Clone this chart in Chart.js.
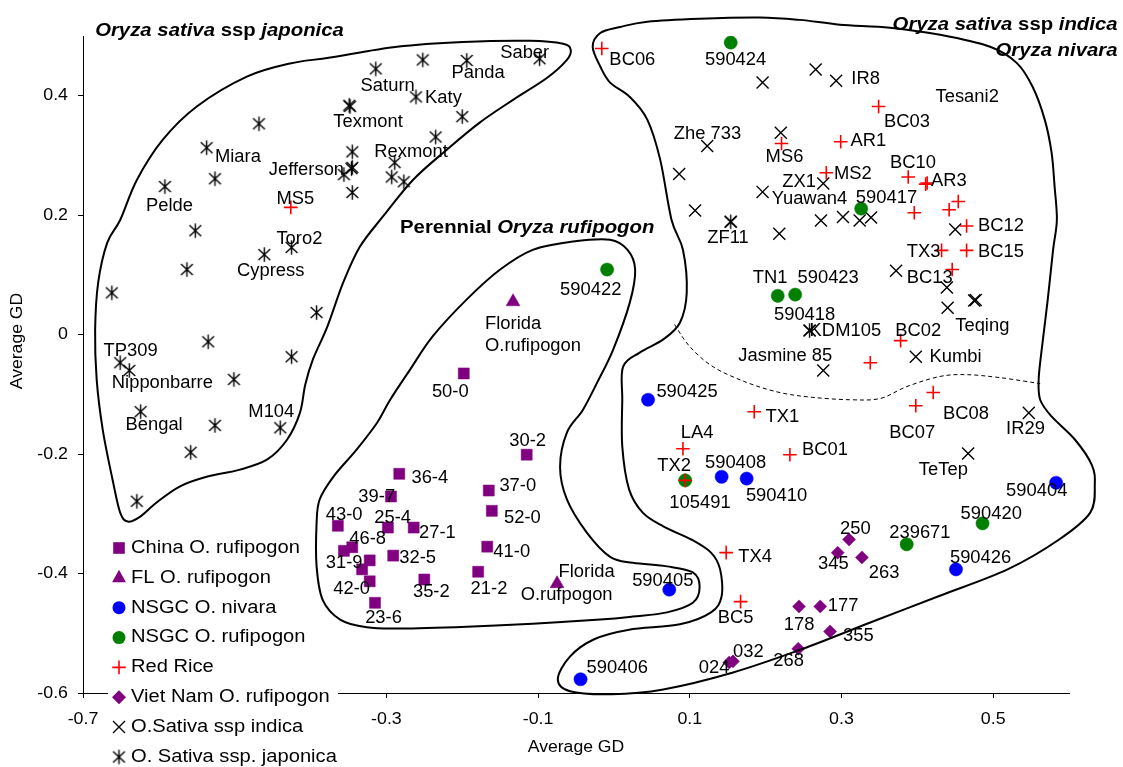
<!DOCTYPE html>
<html>
<head>
<meta charset="utf-8">
<script src="https://cdn.jsdelivr.net/npm/chart.js@4.4.1/dist/chart.umd.min.js"></script>
<style>
  html, body { margin: 0; padding: 0; background: #fff; }
  canvas { display: block; }
</style>
</head>
<body>
<canvas id="gd" width="1123" height="767"></canvas>
<script>
// ---- Average GD coordinates per group ----
const chinaRufipogon = [
  [-0.115,-0.201],[-0.283,-0.233],[-0.165,-0.261],[-0.294,-0.271],[-0.161,-0.295],
  [-0.364,-0.320],[-0.298,-0.323],[-0.264,-0.323],[-0.167,-0.355],[-0.356,-0.362],
  [-0.345,-0.356],[-0.291,-0.370],[-0.322,-0.378],[-0.332,-0.393],[-0.179,-0.397],
  [-0.250,-0.410],[-0.322,-0.413],[-0.315,-0.449],[-0.198,-0.065]
];
const flRufipogon = [[-0.133,0.055],[-0.075,-0.417]];
const nsgcNivara = [
  [0.045,-0.109],[0.142,-0.238],[0.175,-0.241],[0.583,-0.248],
  [0.451,-0.393],[0.073,-0.427],[-0.044,-0.577]
];
const nsgcRufipogon = [
  [0.154,0.489],[0.326,0.211],[0.216,0.065],[0.239,0.067],
  [-0.009,0.109],[0.094,-0.244],[0.386,-0.351],[0.486,-0.316]
];
const redRice = [
  [-0.016,0.479],[-0.426,0.213],[0.221,0.320],[0.299,0.323],[0.349,0.382],
  [0.280,0.271],[0.388,0.264],[0.413,0.254],[0.411,0.252],[0.454,0.223],
  [0.442,0.209],[0.396,0.204],[0.465,0.182],[0.432,0.141],[0.465,0.141],
  [0.446,0.109],[0.378,-0.010],[0.338,-0.047],[0.421,-0.097],[0.398,-0.119],
  [0.185,-0.129],[0.091,-0.191],[0.094,-0.244],[0.232,-0.201],[0.148,-0.365],
  [0.167,-0.447]
];
const vietNamRufipogon = [
  [0.310,-0.343],[0.295,-0.365],[0.327,-0.373],[0.244,-0.455],[0.272,-0.455],
  [0.285,-0.497],[0.243,-0.526],[0.157,-0.547],[0.152,-0.549]
];
const sativaIndica = [
  [0.266,0.444],[0.293,0.425],[0.196,0.422],[0.123,0.316],[0.220,0.338],
  [0.086,0.269],[0.196,0.239],[0.276,0.253],[0.107,0.208],[0.218,0.169],
  [0.273,0.191],[0.302,0.197],[0.324,0.191],[0.339,0.196],[0.450,0.176],
  [0.372,0.107],[0.439,0.079],[0.440,0.045],[0.475,0.057],[0.477,0.058],
  [0.398,-0.037],[0.276,-0.060],[0.547,-0.131],[0.467,-0.199],[0.154,0.189],
  [0.258,0.007]
];
const sativaJaponica = [
  [-0.314,0.445],[-0.252,0.460],[-0.194,0.459],[-0.098,0.462],[-0.261,0.398],
  [-0.200,0.365],[-0.235,0.331],[-0.348,0.382],[-0.349,0.384],[-0.289,0.288],
  [-0.293,0.264],[-0.277,0.256],[-0.345,0.306],[-0.345,0.280],[-0.346,0.278],
  [-0.356,0.268],[-0.345,0.238],[-0.468,0.353],[-0.537,0.313],[-0.526,0.261],
  [-0.592,0.248],[-0.552,0.174],[-0.425,0.146],[-0.461,0.134],[-0.563,0.109],
  [-0.662,0.070],[-0.392,0.037],[-0.535,-0.012],[-0.425,-0.037],[-0.651,-0.047],
  [-0.639,-0.060],[-0.501,-0.075],[-0.624,-0.129],[-0.526,-0.152],[-0.440,-0.156],
  [-0.558,-0.197],[-0.629,-0.279],[0.154,0.189],[0.258,0.007]
];

// accession names, anchored by their left edge (x) and middle (y)
const pointLabels = [
  ['Miara',-0.526,0.297],['Pelde',-0.617,0.215],['Jefferson',-0.455,0.276],['MS5',-0.445,0.226],
  ['Texmont',-0.370,0.355],['Saturn',-0.334,0.416],['Katy',-0.249,0.396],['Panda',-0.214,0.438],
  ['Saber',-0.150,0.472],['Rexmont',-0.316,0.306],['Toro2',-0.445,0.159],['Cypress',-0.497,0.106],
  ['TP309',-0.673,-0.028],['Nipponbarre',-0.662,-0.081],['Bengal',-0.644,-0.152],['M104',-0.482,-0.130],
  ['Florida',-0.170,0.018],['O.rufipogon',-0.170,-0.020],['590422',-0.071,0.074],['50-0',-0.240,-0.097],
  ['30-2',-0.138,-0.179],['36-4',-0.267,-0.240],['37-0',-0.151,-0.253],['39-7',-0.337,-0.272],
  ['52-0',-0.145,-0.307],['43-0',-0.380,-0.302],['25-4',-0.316,-0.308],['27-1',-0.257,-0.333],
  ['46-8',-0.349,-0.343],['41-0',-0.159,-0.364],['31-9',-0.380,-0.383],['32-5',-0.283,-0.374],
  ['42-0',-0.370,-0.427],['35-2',-0.265,-0.432],['21-2',-0.189,-0.427],['23-6',-0.328,-0.475],
  ['Florida',-0.073,-0.397],['O.rufpogon',-0.123,-0.436],
  ['590405',0.024,-0.413],['LA4',0.088,-0.165],['TX2',0.057,-0.220],['105491',0.073,-0.283],
  ['BC06',-0.006,0.460],['590424',0.120,0.460],['Zhe 733',0.079,0.336],['MS6',0.200,0.297],
  ['ZX1',0.222,0.256],['Yuawan4',0.208,0.227],['IR8',0.313,0.428],['AR1',0.312,0.324],
  ['MS2',0.290,0.269],['Tesani2',0.424,0.397],['BC03',0.356,0.355],['BC10',0.364,0.287],
  ['AR3',0.418,0.257],['590417',0.319,0.228],['ZF11',0.123,0.161],['TN1',0.183,0.094],
  ['590423',0.242,0.094],['590418',0.211,0.032],['KDM105',0.258,0.006],['Jasmine 85',0.164,-0.036],
  ['590425',0.056,-0.097],['BC12',0.480,0.182],['TX3',0.386,0.138],['BC15',0.480,0.138],
  ['BC13',0.386,0.095],['Teqing',0.450,0.014],['BC02',0.371,0.006],['Kumbi',0.416,-0.037],
  ['TX1',0.200,-0.138],['BC01',0.248,-0.194],['590408',0.120,-0.215],['590410',0.174,-0.271],
  ['BC08',0.434,-0.134],['BC07',0.363,-0.165],['IR29',0.517,-0.158],['TeTep',0.402,-0.227],
  ['590404',0.517,-0.262],['590420',0.457,-0.301],['239671',0.363,-0.333],['590426',0.443,-0.374],
  ['250',0.298,-0.325],['345',0.269,-0.385],['263',0.336,-0.400],['TX4',0.164,-0.373],
  ['BC5',0.137,-0.474],['178',0.224,-0.487],['177',0.282,-0.454],['355',0.302,-0.505],
  ['268',0.210,-0.546],['032',0.157,-0.532],['024',0.112,-0.558],['590406',-0.036,-0.559]
];

// group headings: [segments, x, y, align]; each segment is [text, italic]
const groupTitles = [
  [[['Oryza sativa ',true],['ssp ',false],['japonica',true]], -0.684, 0.508, 'left'],
  [[['Oryza sativa ',true],['ssp ',false],['indica',true]], 0.664, 0.519, 'right'],
  [[['Oryza nivara',true]], 0.664, 0.474, 'right'],
  [[['Perennial ',false],['Oryza rufipogon',true]], -0.282, 0.179, 'left']
];

// hand-drawn group outlines (closed) and the dashed divider (open)
const japonicaOutline = [
  [-0.374,0.464],[-0.286,0.482],[-0.199,0.490],[-0.111,0.492],[-0.067,0.487],[-0.057,0.477],
  [-0.062,0.460],[-0.088,0.430],[-0.133,0.393],[-0.177,0.355],[-0.220,0.310],[-0.265,0.259],
  [-0.305,0.197],[-0.335,0.147],[-0.357,0.087],[-0.378,0.013],[-0.397,-0.042],[-0.407,-0.084],
  [-0.414,-0.131],[-0.431,-0.176],[-0.457,-0.209],[-0.493,-0.226],[-0.537,-0.238],[-0.572,-0.254],
  [-0.603,-0.281],[-0.625,-0.305],[-0.641,-0.313],[-0.651,-0.298],[-0.661,-0.243],[-0.674,-0.159],
  [-0.682,-0.075],[-0.684,0.008],[-0.680,0.087],[-0.668,0.154],[-0.651,0.192],[-0.629,0.259],
  [-0.595,0.326],[-0.550,0.382],[-0.484,0.432],[-0.427,0.454]
];
const perennialOutline = [
  [-0.269,-0.059],[-0.239,-0.003],[-0.194,0.059],[-0.150,0.109],[-0.107,0.142],[-0.054,0.156],
  [-0.005,0.159],[0.018,0.142],[0.028,0.109],[0.021,0.054],[-0.001,-0.025],[-0.022,-0.080],
  [-0.041,-0.126],[-0.062,-0.164],[-0.071,-0.221],[-0.062,-0.276],[-0.036,-0.331],[-0.005,-0.372],
  [0.025,-0.382],[0.070,-0.388],[0.104,-0.398],[0.113,-0.422],[0.104,-0.449],[0.070,-0.465],
  [0.025,-0.472],[-0.018,-0.477],[-0.107,-0.484],[-0.194,-0.489],[-0.282,-0.492],[-0.326,-0.490],
  [-0.361,-0.477],[-0.384,-0.444],[-0.392,-0.388],[-0.392,-0.315],[-0.388,-0.276],[-0.370,-0.238],
  [-0.339,-0.192],[-0.312,-0.147],[-0.295,-0.109]
];
const indicaOutline = [
  [-0.018,0.505],[0.008,0.515],[0.044,0.524],[0.113,0.529],[0.192,0.531],[0.245,0.527],
  [0.298,0.519],[0.364,0.514],[0.430,0.502],[0.496,0.482],[0.531,0.455],[0.552,0.415],
  [0.568,0.360],[0.577,0.305],[0.581,0.248],[0.584,0.192],[0.579,0.142],[0.572,0.059],
  [0.564,-0.025],[0.560,-0.075],[0.562,-0.109],[0.577,-0.137],[0.608,-0.176],[0.630,-0.218],
  [0.634,-0.251],[0.628,-0.298],[0.587,-0.343],[0.519,-0.393],[0.428,-0.438],[0.338,-0.482],
  [0.247,-0.527],[0.156,-0.566],[0.065,-0.594],[-0.003,-0.602],[-0.058,-0.597],[-0.074,-0.577],
  [-0.058,-0.539],[-0.026,-0.510],[0.020,-0.494],[0.087,-0.485],[0.128,-0.465],[0.142,-0.438],
  [0.140,-0.393],[0.128,-0.365],[0.102,-0.343],[0.065,-0.321],[0.038,-0.298],[0.020,-0.259],
  [0.011,-0.187],[0.011,-0.109],[0.012,-0.054],[0.034,-0.030],[0.065,-0.008],[0.087,0.020],
  [0.096,0.070],[0.091,0.142],[0.076,0.192],[0.061,0.293],[0.044,0.360],[0.021,0.398],
  [-0.005,0.422],[-0.018,0.449],[-0.028,0.482]
];
const nivaraDivider = [
  [0.080,0.017],[0.100,-0.020],[0.131,-0.054],[0.175,-0.080],[0.219,-0.097],[0.262,-0.105],
  [0.311,-0.109],[0.351,-0.107],[0.386,-0.087],[0.430,-0.070],[0.465,-0.067],[0.509,-0.072],
  [0.562,-0.082]
];

const xTickValues = [-0.7, -0.5, -0.3, -0.1, 0.1, 0.3, 0.5];
const yTickValues = [-0.6, -0.4, -0.2, 0, 0.2, 0.4];
const axisTitle = 'Average GD';

// ---- drawing ----
const FONT = "'Liberation Sans', Arial, Helvetica, sans-serif";
Chart.defaults.font.family = FONT;
Chart.defaults.color = '#000';

// asterisk marker used for japonica accessions
function makeAsterisk() {
  const c = document.createElement('canvas');
  c.width = 17; c.height = 17;
  const g = c.getContext('2d');
  g.strokeStyle = '#000';
  g.lineWidth = 1.4;
  g.beginPath();
  g.moveTo(2.6, 2.9); g.lineTo(14.4, 14.1);
  g.moveTo(14.4, 2.9); g.lineTo(2.6, 14.1);
  g.moveTo(8.5, 1.2); g.lineTo(8.5, 15.8);
  g.stroke();
  return c;
}
const asterisk = makeAsterisk();

const PURPLE = '#800080', BLUE = '#0000FF', GREEN = '#008000', RED = '#FF0000', BLACK = '#000000';

function series(label, pts, style, radius, color, width, order) {
  return {
    label,
    data: pts.map(([x, y]) => ({ x, y })),
    pointStyle: style,
    pointRadius: radius,
    pointHoverRadius: radius,
    pointBackgroundColor: color,
    pointBorderColor: color,
    pointBorderWidth: width,
    showLine: false,
    order
  };
}

const datasets = [
  series('China O. rufipogon', chinaRufipogon, 'rect', 7.8, PURPLE, 0.5, 1),
  series('FL O. rufipogon', flRufipogon, 'triangle', 8, PURPLE, 0.5, 1),
  series('NSGC O. nivara', nsgcNivara, 'circle', 6.6, BLUE, 0.5, 1),
  series('NSGC O. rufipogon', nsgcRufipogon, 'circle', 6.6, GREEN, 0.5, 1),
  series('Red Rice', redRice, 'cross', 6.8, RED, 1.6, 0),
  series('Viet Nam O. rufipogon', vietNamRufipogon, 'rectRot', 6.5, PURPLE, 0.5, 1),
  series('O.Sativa ssp indica', sativaIndica, 'crossRot', 8.5, BLACK, 1.4, 1),
  series('O. Sativa ssp. japonica', sativaJaponica, asterisk, 8, BLACK, 1, 1)
];

// draws text stretched horizontally about its anchor
function patchText(ctx) {
  if (ctx._patched) return;
  const orig = ctx.fillText;
  ctx.fillText = function (t, x, y) {
    const s = this._sx || 1;
    if (s === 1) return orig.call(this, t, x, y);
    this.save();
    this.translate(x, y);
    this.scale(s, 1);
    orig.call(this, t, 0, 0);
    this.restore();
  };
  ctx._patched = true;
}

function text(ctx, s, x, y, font, align, sx) {
  ctx.font = font;
  ctx.textAlign = align || 'left';
  ctx.textBaseline = 'middle';
  ctx._sx = sx;
  ctx.fillText(s, x, y);
}

function smoothPath(ctx, pts, closed) {
  const n = pts.length;
  const at = i => closed ? pts[(i + n) % n] : pts[Math.max(0, Math.min(n - 1, i))];
  ctx.beginPath();
  ctx.moveTo(pts[0][0], pts[0][1]);
  const last = closed ? n : n - 1;
  for (let i = 0; i < last; i++) {
    const p0 = at(i - 1), p1 = at(i), p2 = at(i + 1), p3 = at(i + 2);
    ctx.bezierCurveTo(
      p1[0] + (p2[0] - p0[0]) / 6, p1[1] + (p2[1] - p0[1]) / 6,
      p2[0] - (p3[0] - p1[0]) / 6, p2[1] - (p3[1] - p1[1]) / 6,
      p2[0], p2[1]);
  }
  if (closed) ctx.closePath();
}

function legendMarker(ctx, style, x, y, color) {
  ctx.save();
  ctx.fillStyle = color;
  ctx.strokeStyle = color;
  ctx.beginPath();
  if (style === 'rect') {
    ctx.fillRect(x - 5.8, y - 5.8, 11.6, 11.6);
  } else if (style === 'triangle') {
    ctx.moveTo(x, y - 8); ctx.lineTo(x + 6.9, y + 4.5); ctx.lineTo(x - 6.9, y + 4.5);
    ctx.closePath(); ctx.fill();
  } else if (style === 'circle') {
    ctx.arc(x, y, 6.5, 0, Math.PI * 2); ctx.fill();
  } else if (style === 'cross') {
    ctx.lineWidth = 1.6;
    ctx.moveTo(x - 6.8, y); ctx.lineTo(x + 6.8, y);
    ctx.moveTo(x, y - 6.8); ctx.lineTo(x, y + 6.8); ctx.stroke();
  } else if (style === 'rectRot') {
    ctx.moveTo(x - 7, y); ctx.lineTo(x, y - 7); ctx.lineTo(x + 7, y); ctx.lineTo(x, y + 7);
    ctx.closePath(); ctx.fill();
  } else if (style === 'crossRot') {
    ctx.lineWidth = 1.4;
    ctx.moveTo(x - 6, y - 6); ctx.lineTo(x + 6, y + 6);
    ctx.moveTo(x + 6, y - 6); ctx.lineTo(x - 6, y + 6); ctx.stroke();
  } else {
    ctx.drawImage(style, x - style.width / 2, y - style.height / 2);
  }
  ctx.restore();
}

const TICK_STRETCH = 1.08;

const overlay = {
  id: 'overlay',
  beforeDraw(chart) {
    patchText(chart.ctx);
    chart.ctx._sx = TICK_STRETCH;
  },
  afterDatasetsDraw(chart) {
    const ctx = chart.ctx;
    const xs = chart.scales.x, ys = chart.scales.y;
    const toPx = pts => pts.map(([a, b]) => [xs.getPixelForValue(a), ys.getPixelForValue(b)]);
    ctx.save();

    // legend panel
    ctx.fillStyle = '#fff';
    ctx.fillRect(108, 533, 230, 234);
    chart.data.datasets.forEach((ds, i) => {
      const cy = 548 + i * 29.85;
      legendMarker(ctx, ds.pointStyle, 119, cy, ds.pointBorderColor);
      ctx.fillStyle = '#000';
      text(ctx, ds.label, 131, cy, '17.5px ' + FONT, 'left', 1.15);
    });

    // group outlines
    ctx.strokeStyle = '#000';
    ctx.lineWidth = 2;
    ctx.lineJoin = 'round';
    [japonicaOutline, perennialOutline, indicaOutline].forEach(o => {
      smoothPath(ctx, toPx(o), true);
      ctx.stroke();
    });
    ctx.lineWidth = 1;
    ctx.setLineDash([4, 3]);
    smoothPath(ctx, toPx(nivaraDivider), false);
    ctx.stroke();
    ctx.setLineDash([]);

    // accession names
    ctx.fillStyle = '#000';
    pointLabels.forEach(([s, a, b]) => {
      text(ctx, s, xs.getPixelForValue(a), ys.getPixelForValue(b), '17.5px ' + FONT, 'left', 1.05);
    });

    // group headings
    groupTitles.forEach(([segs, a, b, align]) => {
      const sx = 1.13;
      const fonts = segs.map(([, it]) => (it ? 'italic ' : '') + 'bold 18px ' + FONT);
      const widths = segs.map(([s], i) => { ctx.font = fonts[i]; return ctx.measureText(s).width * sx; });
      const total = widths.reduce((p, w) => p + w, 0);
      let x = xs.getPixelForValue(a);
      if (align === 'right') x -= total;
      const y = ys.getPixelForValue(b);
      segs.forEach(([s], i) => {
        text(ctx, s, x, y, fonts[i], 'left', sx);
        x += widths[i];
      });
    });

    // axis titles
    text(ctx, axisTitle, (chart.chartArea.left + chart.chartArea.right) / 2, 748, '16px ' + FONT, 'center', 1.1);
    ctx.save();
    ctx.translate(18, 341);
    ctx.rotate(-Math.PI / 2);
    text(ctx, axisTitle, 0, 0, '16px ' + FONT, 'center', 1.1);
    ctx.restore();

    ctx.restore();
    ctx._sx = TICK_STRETCH;
  }
};

new Chart(document.getElementById('gd'), {
  type: 'scatter',
  data: { datasets },
  options: {
    responsive: false,
    animation: false,
    events: [],
    layout: { padding: { top: 36, right: 54, left: 0, bottom: 0 } },
    plugins: { legend: { display: false }, tooltip: { enabled: false } },
    scales: {
      x: {
        type: 'linear', min: -0.7, max: 0.6,
        afterBuildTicks: s => { s.ticks = xTickValues.map(v => ({ value: v })); },
        afterFit: s => { s.height = 74; },
        ticks: { font: { size: 16.5 }, color: '#000', padding: 12, maxRotation: 0, autoSkip: false, callback: v => String(v) },
        grid: { drawOnChartArea: false, drawTicks: true, tickLength: 5, color: '#000', lineWidth: 1 },
        border: { display: true, color: '#000', width: 1 }
      },
      y: {
        type: 'linear', min: -0.6, max: 0.5,
        afterBuildTicks: s => { s.ticks = yTickValues.map(v => ({ value: v })); },
        afterFit: s => { s.width = 83; },
        ticks: { font: { size: 16.5 }, color: '#000', padding: 10, autoSkip: false, callback: v => String(v) },
        grid: { drawOnChartArea: false, drawTicks: true, tickLength: 5, color: '#000', lineWidth: 1 },
        border: { display: true, color: '#000', width: 1 }
      }
    }
  },
  plugins: [overlay]
});
</script>
</body>
</html>
